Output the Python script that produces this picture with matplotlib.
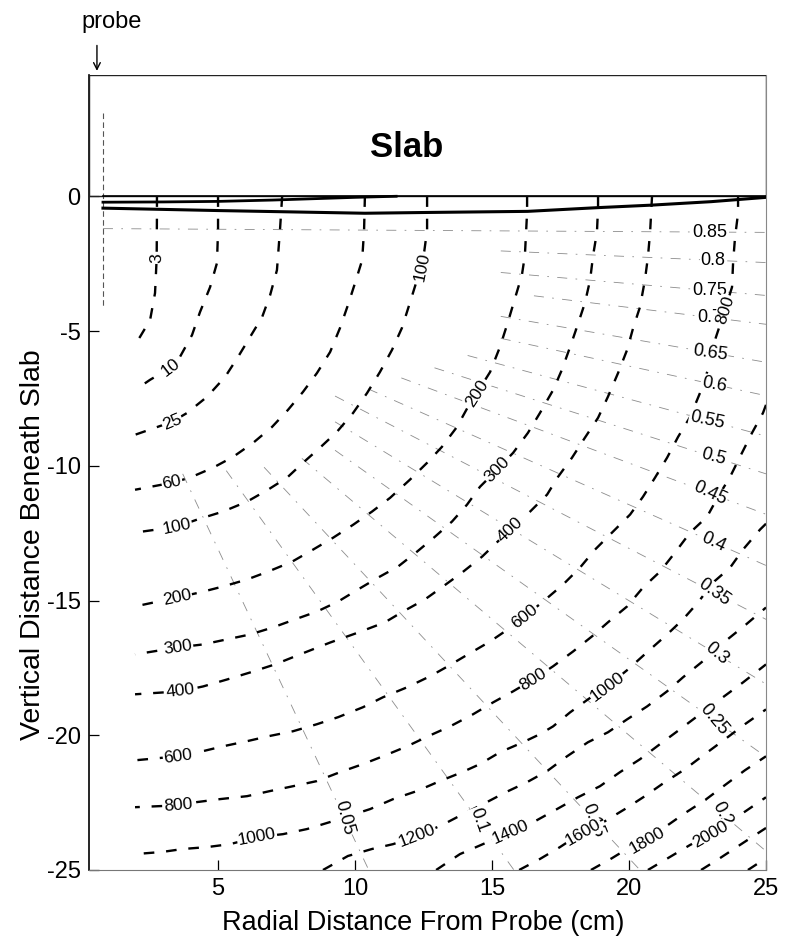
import numpy as np
import matplotlib
matplotlib.use("Agg")
import matplotlib.pyplot as plt
from matplotlib.patches import Rectangle

plt.rcParams['font.family'] = ['Liberation Sans', 'DejaVu Sans']
plt.rcParams['axes.unicode_minus'] = False

# ---------------- axis ticks ----------------
x_ticks = [5, 10, 15, 20, 25]
y_ticks = [0, -5, -10, -15, -20, -25]

# ---------------- dashed contours ----------------
c3_x = [2.77, 2.77, 2.76, 2.70, 2.52, 2.15, 1.90]
c3_y = [0.0, -0.63, -2.30, -3.59, -4.59, -5.22, -5.59]

c10_x = [5.0, 5.0, 4.96, 4.71, 4.34, 4.05, 3.61, 3.25, 2.52, 1.97]
c10_y = [0.0, -1.26, -2.48, -3.37, -4.30, -5.15, -5.96, -6.37, -6.81, -7.19]

c25_x = [7.34, 7.26, 7.15, 6.90, 6.61, 6.17, 5.73, 5.26, 4.60, 3.87, 3.32, 1.97]
c25_y = [0.0, -1.26, -2.74, -3.67, -4.48, -5.22, -5.96, -6.70, -7.44, -8.04, -8.37, -8.85]

c60_x = [10.36, 10.33, 10.26, 10.0, 9.74, 9.45, 9.09, 8.61, 8.10, 7.55, 6.97, 6.28, 5.55, 4.82, 3.98, 3.32, 1.97]
c60_y = [0.0, -1.26, -2.37, -3.22, -4.04, -4.89, -5.78, -6.56, -7.26, -7.93, -8.56, -9.15, -9.67, -10.07, -10.44, -10.63, -10.89]

c100_x = [12.63, 12.63, 12.45, 12.26, 12.0, 11.71, 11.35, 10.91, 10.44, 9.93, 9.34, 8.72, 8.10, 7.52, 6.82, 6.06, 5.18, 4.23, 3.50, 1.97]
c100_y = [0.0, -1.26, -2.63, -3.11, -3.96, -4.89, -5.70, -6.52, -7.30, -8.04, -8.74, -9.33, -9.89, -10.44, -10.89, -11.33, -11.70, -12.0, -12.26, -12.48]

c200_x = [16.28, 16.28, 16.20, 16.09, 15.84, 15.58, 15.29, 14.93, 14.45, 14.20, 13.72, 13.17, 12.63, 12.0, 11.28, 10.62, 9.93, 9.20, 8.47, 7.70, 6.82, 6.06, 5.18, 4.34, 3.50, 1.97]
c200_y = [0.0, -0.59, -2.19, -2.93, -3.78, -4.67, -5.59, -6.52, -7.30, -7.67, -8.56, -9.30, -9.89, -10.52, -11.19, -11.70, -12.19, -12.67, -13.11, -13.56, -13.93, -14.22, -14.48, -14.70, -14.89, -15.22]

c300_x = [18.87, 18.87, 18.83, 18.69, 18.58, 18.39, 18.10, 17.85, 17.55, 17.23, 16.75, 16.31, 15.77, 15.18, 14.56, 14.09, 13.54, 12.92, 12.26, 11.57, 10.84, 10.11, 9.38, 8.61, 7.81, 7.0, 6.17, 5.33, 4.45, 3.54, 1.97]
c300_y = [0.0, -0.41, -1.33, -2.19, -3.11, -3.96, -4.85, -5.59, -6.44, -7.19, -8.04, -8.78, -9.52, -10.15, -10.78, -11.44, -12.07, -12.63, -13.19, -13.74, -14.15, -14.59, -15.04, -15.41, -15.70, -16.0, -16.26, -16.44, -16.63, -16.74, -17.0]

c400_x = [20.84, 20.77, 20.69, 20.58, 20.40, 20.15, 19.93, 19.60, 19.23, 18.87, 18.39, 17.92, 17.41, 17.01, 16.39, 15.66, 14.64, 13.91, 13.21, 12.55, 11.75, 11.09, 10.11, 9.09, 7.99, 7.08, 6.17, 5.33, 4.45, 3.61, 1.97]
c400_y = [0.0, -1.33, -2.26, -3.11, -4.11, -4.89, -5.70, -6.56, -7.44, -8.22, -8.96, -9.70, -10.41, -11.07, -11.70, -12.37, -13.37, -13.96, -14.48, -14.96, -15.41, -15.81, -16.19, -16.56, -17.0, -17.37, -17.67, -17.93, -18.19, -18.37, -18.48]

c600_x = [23.98, 23.98, 23.87, 23.80, 23.76, 23.50, 23.14, 22.88, 22.59, 22.23, 21.79, 21.39, 20.95, 20.51, 20.04, 19.38, 18.76, 18.21, 17.59, 16.86, 16.20, 15.58, 14.93, 14.12, 13.39, 12.74, 11.90, 11.02, 10.29, 9.38, 8.61, 7.74, 6.82, 6.06, 5.18, 4.45, 3.54, 1.97]
c600_y = [0.0, -0.63, -1.52, -2.44, -3.37, -4.22, -5.33, -6.44, -7.30, -8.19, -8.93, -9.70, -10.44, -11.15, -11.81, -12.48, -13.11, -13.78, -14.41, -15.04, -15.59, -16.07, -16.52, -17.0, -17.44, -17.81, -18.22, -18.59, -18.96, -19.33, -19.59, -19.85, -20.04, -20.22, -20.41, -20.59, -20.78, -20.93]

c800_x = [25.0, 24.89, 24.49, 24.05, 23.69, 23.25, 22.85, 22.23, 21.68, 21.13, 20.51, 19.93, 19.23, 18.65, 17.96, 17.23, 16.50, 15.77, 15.04, 14.31, 13.47, 12.66, 11.90, 11.02, 10.29, 9.45, 8.61, 7.74, 6.90, 6.06, 5.07, 4.23, 3.54, 1.97]
c800_y = [-7.74, -8.04, -8.78, -9.67, -10.41, -11.15, -11.89, -12.48, -13.22, -13.93, -14.52, -15.22, -15.81, -16.33, -16.89, -17.44, -17.93, -18.37, -18.78, -19.22, -19.67, -20.04, -20.41, -20.78, -21.07, -21.37, -21.70, -21.89, -22.07, -22.26, -22.37, -22.48, -22.60, -22.67]

c1000_x = [25.0, 24.78, 24.16, 23.69, 23.07, 22.52, 21.97, 21.39, 20.69, 19.96, 19.20, 18.50, 17.85, 17.23, 16.75, 16.13, 15.29, 14.56, 13.91, 13.10, 12.26, 11.39, 10.55, 9.64, 9.09, 8.25, 7.37, 6.42, 5.44, 4.60, 3.72, 2.96, 1.97]
c1000_y = [-12.15, -12.37, -13.11, -13.78, -14.33, -15.07, -15.70, -16.26, -16.89, -17.56, -18.19, -18.67, -19.15, -19.67, -19.96, -20.26, -20.63, -21.07, -21.37, -21.70, -22.07, -22.37, -22.74, -23.04, -23.22, -23.48, -23.67, -23.78, -24.04, -24.15, -24.22, -24.33, -24.41]

c1200_x = [8.83, 9.74, 10.62, 11.39, 12.26, 13.18, 14.01, 14.74, 15.51, 16.28, 17.01, 17.74, 18.50, 19.23, 19.93, 20.66, 21.39, 21.97, 22.77, 23.50, 24.27, 25.0]
c1200_y = [-25.0, -24.48, -24.22, -24.04, -23.74, -23.33, -22.89, -22.52, -22.11, -21.74, -21.33, -20.78, -20.26, -19.89, -19.41, -18.93, -18.37, -17.85, -17.19, -16.52, -15.89, -15.26]

c1400_x = [12.96, 13.83, 14.67, 15.66, 16.57, 17.37, 18.14, 18.94, 19.67, 20.40, 21.13, 21.86, 22.59, 23.32, 24.16, 25.0]
c1400_y = [-25.0, -24.41, -24.04, -23.59, -23.19, -22.74, -22.30, -21.89, -21.37, -20.89, -20.33, -19.78, -19.22, -18.67, -18.04, -17.37]

c1600_x = [15.99, 16.75, 17.48, 18.32, 19.12, 19.85, 20.58, 21.31, 22.04, 22.77, 23.50, 24.23, 25.0]
c1600_y = [-25.0, -24.59, -24.15, -23.59, -23.19, -22.74, -22.26, -21.74, -21.26, -20.70, -20.15, -19.59, -19.04]

c1800_x = [18.61, 19.38, 20.04, 20.66, 21.31, 22.04, 22.77, 23.50, 24.23, 25.0]
c1800_y = [-25.0, -24.56, -24.15, -23.89, -23.41, -22.89, -22.41, -21.85, -21.30, -20.78]

c2000_x = [20.69, 21.42, 22.23, 22.96, 23.61, 24.31, 25.0]
c2000_y = [-25.0, -24.56, -24.07, -23.70, -23.26, -22.78, -22.30]

c2200_x = [22.63, 23.32, 24.05, 25.0]
c2200_y = [-25.0, -24.56, -24.07, -23.44]

c2400_x = [24.34, 25.0]
c2400_y = [-25.0, -24.56]

# (level, x, y, [(point index, label text), ...])
contours = [
    (3, c3_x, c3_y, [(2, "3")]),
    (10, c10_x, c10_y, [(7, "10")]),
    (25, c25_x, c25_y, [(10, "25")]),
    (60, c60_x, c60_y, [(15, "60")]),
    (100, c100_x, c100_y, [(2, "100"), (18, "100")]),
    (200, c200_x, c200_y, [(8, "200"), (24, "200")]),
    (300, c300_x, c300_y, [(13, "300"), (29, "300")]),
    (400, c400_x, c400_y, [(15, "400"), (29, "400")]),
    (600, c600_x, c600_y, [(5, "800"), (20, "600"), (36, "600")]),
    (800, c800_x, c800_y, [(16, "800"), (32, "800")]),
    (1000, c1000_x, c1000_y, [(10, "1000"), (27, "1000")]),
    (1200, c1200_x, c1200_y, [(4, "1200")]),
    (1400, c1400_x, c1400_y, [(3, "1400")]),
    (1600, c1600_x, c1600_y, [(3, "1600")]),
    (1800, c1800_x, c1800_y, [(3, "1800")]),
    (2000, c2000_x, c2000_y, [(3, "2000")]),
    (2200, c2200_x, c2200_y, []),
    (2400, c2400_x, c2400_y, []),
]

# ---------------- thin dash-dot family (fraction lines) ----------------
faint_levels = ["0.85", "0.8", "0.75", "0.7", "0.65", "0.6", "0.55", "0.5", "0.45",
                "0.4", "0.35", "0.3", "0.25", "0.2", "0.15", "0.1", "0.05"]
faint_start_x = [0.8] * 17
faint_start_y = [-1.2, -1.38, -1.55, -1.73, -1.9, -2.08, -2.25, -2.43, -2.6,
                 -2.78, -2.95, -3.13, -3.3, -3.48, -3.65, -3.83, -4.0]
faint_end_x = [25, 25, 25, 25, 25, 25, 25, 25, 25, 25, 25, 25, 25, 25, 20.4, 15.8, 10.5]
faint_end_y = [-1.34, -2.46, -3.68, -4.75, -6.16, -7.4, -8.9, -10.3, -11.8,
               -13.7, -15.7, -18.1, -20.8, -24.3, -25, -25, -25]
faint_label_x = [22.96, 23.07, 22.96, 22.96, 22.96, 23.1, 22.85, 23.1, 22.96,
                 23.1, 23.1, 23.2, 23.1, 23.4, 18.7, 14.5, 9.6]
faint_label_rot = [0, 0, 0, 0, -8, -10, -12, -15, -25, -25, -35, -40, -50, -62, -68, -70, -75]
# fraction of each line (from the probe) where the visible trace begins
faint_visible_from = [0.0, 0.6, 0.6, 0.65, 0.6, 0.6, 0.55, 0.5, 0.45,
                      0.4, 0.35, 0.35, 0.35, 0.3, 0.3, 0.3, 0.3]

# ---------------- solid lines just beneath the slab ----------------
slab_bottom_x = [0.8, 25.0]
slab_bottom_y = [0.0, 0.0]
solid_mid_x = [0.8, 3.0, 5.0, 7.0, 8.5, 10.0, 11.5]
solid_mid_y = [-0.22, -0.21, -0.19, -0.14, -0.09, -0.04, 0.0]
solid_low_x = [0.8, 5.0, 10.36, 12.7, 16.3, 18.9, 20.8, 23.0, 25.0]
solid_low_y = [-0.44, -0.53, -0.63, -0.60, -0.56, -0.42, -0.33, -0.2, -0.04]

probe_x = [0.8, 0.8]
probe_y = [3.1, -4.1]

# ---------------- figure ----------------
W, H = 792, 940
fig = plt.figure(figsize=(W / 100, H / 100), dpi=100)
ax = fig.add_axes([89 / W, 1 - 870 / H, (766 - 89) / W, (870 - 75) / H])
ax.set_xlim(0.29, 25)
ax.set_ylim(-25, 4.5)

# slab box
ax.add_patch(Rectangle((0.29, 0), 25 - 0.29, 4.5, fill=False, ec='#222222', lw=1.0, zorder=3))
ax.text(11.9, 1.8, "Slab", fontsize=25, fontweight='bold', ha='center', va='center')

# probe
ax.plot(probe_x, probe_y, color='#555555', lw=0.8, dashes=(5, 3), zorder=2)
ax.annotate("", xy=(0.58, 4.55), xytext=(0.58, 5.7), xycoords='data',
            arrowprops=dict(arrowstyle='->', lw=1.0, color='black', mutation_scale=12),
            annotation_clip=False)
fig.text(112 / W, 1 - 22 / H, "probe", fontsize=17, ha='center', va='center')

# solid lines
ax.plot(slab_bottom_x, slab_bottom_y, color='black', lw=1.2, zorder=3)
ax.plot(solid_mid_x, solid_mid_y, color='black', lw=2.0, zorder=3)
ax.plot(solid_low_x, solid_low_y, color='black', lw=2.2, zorder=3)


def put_label(xs, ys, i, text, rot=None, fs=12.5):
    if rot is None:
        pts = ax.transData.transform(np.column_stack([xs, ys]))
        j0 = max(i - 1, 0)
        j1 = min(i + 1, len(xs) - 1)
        dx, dy = pts[j1] - pts[j0]
        rot = np.degrees(np.arctan2(dy, dx))
        if rot > 90:
            rot -= 180
        if rot < -90:
            rot += 180
    ax.text(xs[i], ys[i], text, rotation=rot, rotation_mode='anchor',
            ha='center', va='center', fontsize=fs, zorder=6,
            bbox=dict(fc='white', ec='none', pad=0.6))


# faint fraction lines
for k, lab in enumerate(faint_levels):
    x0, x1 = faint_start_x[k], faint_end_x[k]
    y0, y1 = faint_start_y[k], faint_end_y[k]
    s = faint_visible_from[k]
    xs = [x0 + s * (x1 - x0), x1]
    ys = [y0 + s * (y1 - y0), y1]
    ax.plot(xs, ys, color='#8c8c8c', lw=0.6, dashes=(12, 10, 2, 10), zorder=1)
    t = (faint_label_x[k] - x0) / (x1 - x0)
    lx = x0 + t * (x1 - x0)
    ly = y0 + t * (y1 - y0)
    put_label([lx], [ly], 0, lab, rot=faint_label_rot[k], fs=13)

# dashed contours
for lev, xs, ys, labs in contours:
    ax.plot(xs, ys, color='black', lw=1.7, dashes=(4.5, 5.0), zorder=2)
    for i, txt in labs:
        put_label(xs, ys, i, txt, fs=12.5)

# axes styling
ax.set_xticks(x_ticks)
ax.set_yticks(y_ticks)
ax.set_xticklabels([str(v) for v in x_ticks])
ax.set_yticklabels([str(v) for v in y_ticks])
ax.tick_params(direction='in', length=7, width=0.9, labelsize=17, pad=6)
ax.spines['top'].set_visible(False)
ax.spines['left'].set_color('black')
ax.spines['left'].set_linewidth(1.2)
ax.spines['bottom'].set_color('#777777')
ax.spines['bottom'].set_linewidth(0.8)
ax.spines['right'].set_color('#888888')
ax.spines['right'].set_linewidth(0.8)

fig.text(423 / W, 1 - 923 / H, "Radial Distance From Probe (cm)", fontsize=19.5,
         ha='center', va='center')
fig.text(33 / W, 1 - 545 / H, "Vertical Distance Beneath Slab", fontsize=20.5,
         ha='center', va='center', rotation=90)

fig.savefig("out.png", dpi=100)
